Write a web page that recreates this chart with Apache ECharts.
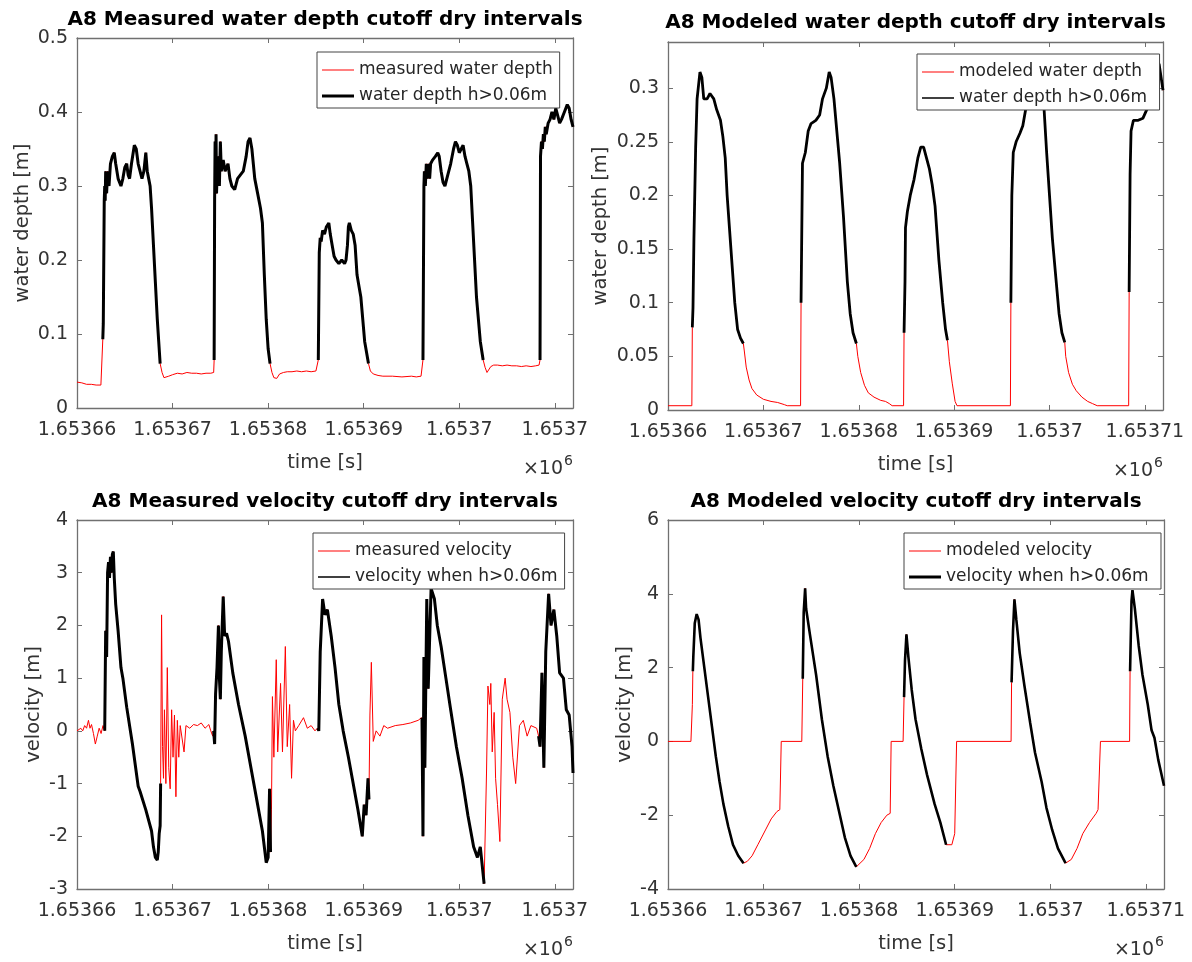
<!DOCTYPE html>
<html><head><meta charset="utf-8">
<script src="https://cdn.jsdelivr.net/npm/echarts@6/dist/echarts.min.js"></script>
<style>html,body{margin:0;padding:0;background:#fff}#c{width:1192px;height:962px}</style>
</head><body><div id="c"></div>
<script>
// ---------- time base and tick labels ----------
const T0 = 1653660;          // seconds, axis origin
const T_MAX = 51.9;          // seconds after T0 shown
const xTickLabelsLeft  = ['1.65366','1.65367','1.65368','1.65369','1.6537','1.6537'];
const xTickLabelsRight = ['1.65366','1.65367','1.65368','1.65369','1.6537','1.65371'];
const yTicksDepthMeas = ['0','0.1','0.2','0.3','0.4','0.5'];
const yTicksDepthMod  = ['0','0.05','0.1','0.15','0.2','0.25','0.3'];
const yTicksVelMeas   = ['-3','-2','-1','0','1','2','3','4'];
const yTicksVelMod    = ['-4','-2','0','2','4','6'];

// ---------- A8 measured water depth (t in s after T0, depth in m) ----------
const depthMeasT = [
 0,0.5,1,1.5,2,2.5,2.65,
 2.7,2.75,2.85,2.9,2.95,3,3.1,3.2,3.35,3.5,3.7,3.9,4.05,4.3,4.6,4.8,5,5.2,5.35,5.5,5.7,6,6.2,6.4,6.6,6.8,7,7.2,7.35,7.5,7.65,7.8,8,8.2,8.4,8.55,8.7,
 8.9,9.1,9.3,9.6,10,10.5,11,11.5,12,12.5,13,13.5,14,14.3,
 14.35,14.4,14.45,14.5,14.55,14.6,14.7,14.8,14.9,15,15.1,15.3,15.5,15.8,16,16.2,16.5,16.8,17.1,17.4,17.7,17.9,18.1,18.3,18.6,18.9,19.2,19.4,19.6,19.8,20,20.2,
 20.4,20.6,20.9,21.2,21.6,22,22.5,23,23.5,24,24.5,25,25.2,
 25.25,25.35,25.45,25.55,25.7,25.9,26.1,26.35,26.5,26.7,26.9,27.1,27.4,27.7,28,28.15,28.3,28.4,28.5,28.7,28.9,29.1,29.3,29.5,29.7,29.9,30.1,30.5,
 30.7,31,31.5,32,33,34,35,35.5,36,36.15,
 36.2,36.3,36.35,36.45,36.55,36.65,36.8,36.9,37,37.2,37.5,37.75,37.9,38.1,38.3,38.5,38.8,39.1,39.4,39.6,39.8,40,40.2,40.4,40.6,40.8,41,41.2,41.4,41.6,41.8,42,42.2,42.5,
 42.7,42.9,43.1,43.3,43.6,44,44.5,45,45.5,46,46.5,47,47.5,48,48.35,
 48.45,48.5,48.6,48.7,48.8,48.9,49,49.1,49.3,49.5,49.7,49.9,50.1,50.3,50.5,50.7,51,51.3,51.5,51.7,51.9];
const depthMeasV = [
 0.035,0.034,0.032,0.032,0.031,0.031,0.030,
 0.093,0.114,0.28,0.30,0.28,0.32,0.29,0.32,0.30,0.33,0.34,0.345,0.33,0.31,0.30,0.31,0.325,0.33,0.315,0.31,0.33,0.355,0.35,0.33,0.33,0.31,0.32,0.345,0.32,0.31,0.30,0.27,0.22,0.17,0.12,0.09,0.06,
 0.048,0.041,0.040,0.043,0.045,0.047,0.046,0.048,0.047,0.047,0.046,0.047,0.047,0.048,
 0.065,0.28,0.36,0.30,0.37,0.29,0.33,0.34,0.30,0.36,0.32,0.335,0.32,0.33,0.31,0.30,0.295,0.31,0.315,0.32,0.34,0.36,0.365,0.35,0.31,0.29,0.27,0.25,0.18,0.12,0.08,0.06,
 0.048,0.041,0.040,0.046,0.048,0.049,0.049,0.050,0.049,0.050,0.049,0.050,0.050,
 0.065,0.21,0.23,0.225,0.24,0.235,0.245,0.25,0.235,0.22,0.205,0.20,0.195,0.20,0.195,0.20,0.22,0.245,0.25,0.24,0.235,0.22,0.18,0.165,0.15,0.12,0.09,0.06,
 0.05,0.046,0.044,0.043,0.043,0.042,0.043,0.042,0.043,0.045,
 0.065,0.30,0.32,0.30,0.33,0.31,0.33,0.31,0.33,0.335,0.34,0.345,0.34,0.32,0.305,0.30,0.315,0.33,0.35,0.36,0.355,0.345,0.35,0.355,0.34,0.33,0.32,0.30,0.25,0.20,0.15,0.12,0.09,0.065,
 0.055,0.048,0.050,0.056,0.058,0.058,0.057,0.058,0.057,0.057,0.056,0.057,0.056,0.057,0.058,
 0.065,0.34,0.36,0.35,0.37,0.36,0.38,0.37,0.385,0.39,0.40,0.39,0.405,0.395,0.385,0.39,0.40,0.41,0.405,0.39,0.38];
const depthMeasWet = [[2.7,8.7],[14.35,20.2],[25.25,30.5],[36.2,42.5],[48.45,51.9]];

// ---------- A8 modeled water depth ----------
const depthModT = [
 0,2.5,
 2.55,2.62,2.72,2.9,3.05,3.35,3.55,3.75,4.1,4.4,4.8,5.1,5.5,5.75,6,6.2,6.6,7,7.3,7.6,7.9,
 8,8.2,8.5,8.8,9.3,10,10.8,11.5,12.2,12.5,13.9,
 13.95,14.1,14.4,14.7,15,15.5,15.9,16.2,16.6,16.9,17.1,17.4,17.7,18,18.4,18.8,19.1,19.4,19.75,
 19.9,20.2,20.6,21,21.6,22.3,22.8,23.2,23.5,24.7,
 24.75,24.85,24.9,25.1,25.4,25.8,26.2,26.5,26.8,27.1,27.4,27.7,28,28.4,28.8,29.1,29.3,
 29.5,29.8,30.1,30.3,35.9,
 35.95,36.05,36.2,36.5,36.9,37.2,37.5,37.9,38.3,38.7,39.1,39.4,39.7,40,40.3,40.7,41,41.3,41.6,
 41.7,42,42.4,42.8,43.4,44,44.5,45,48.3,
 48.35,48.45,48.55,48.8,49.3,49.8,50.2,50.6,51,51.3,51.5,51.7,51.9];
const depthModV = [
 0.004,0.004,
 0.077,0.095,0.16,0.245,0.29,0.315,0.31,0.29,0.29,0.295,0.29,0.28,0.27,0.255,0.235,0.20,0.15,0.10,0.075,0.067,0.062,
 0.055,0.04,0.028,0.02,0.014,0.010,0.008,0.007,0.005,0.004,0.004,
 0.10,0.23,0.24,0.26,0.267,0.27,0.275,0.29,0.30,0.315,0.31,0.29,0.26,0.23,0.18,0.12,0.09,0.072,0.062,
 0.05,0.035,0.023,0.016,0.012,0.009,0.008,0.006,0.004,0.004,
 0.072,0.12,0.17,0.185,0.20,0.215,0.235,0.245,0.245,0.235,0.225,0.21,0.19,0.14,0.10,0.075,0.065,
 0.045,0.025,0.008,0.004,0.004,
 0.10,0.20,0.24,0.25,0.258,0.265,0.28,0.30,0.315,0.32,0.31,0.285,0.24,0.20,0.16,0.12,0.09,0.072,0.063,
 0.05,0.035,0.024,0.018,0.012,0.008,0.006,0.004,0.004,
 0.11,0.22,0.26,0.27,0.27,0.272,0.28,0.30,0.315,0.325,0.322,0.31,0.298];
const depthModWet = [[2.55,7.9],[13.95,19.75],[24.75,29.3],[35.95,41.6],[48.35,51.9]];

// ---------- A8 measured velocity ----------
const velMeasT = [
 0,0.4,0.6,0.8,1.0,1.2,1.36,1.52,1.72,1.92,2.12,2.32,2.52,2.72,
 2.9,3.0,3.1,3.2,3.3,3.4,3.5,3.6,3.7,3.8,3.9,4.05,4.3,4.6,4.8,5.2,5.8,6.4,6.6,7.2,7.8,8.0,8.2,8.4,8.5,8.6,8.7,8.75,
 8.85,8.95,9.05,9.15,9.3,9.45,9.6,9.75,9.9,10.05,10.2,10.35,10.5,10.65,10.8,11.2,11.4,11.8,12.2,12.6,13,13.4,13.8,14,14.2,
 14.3,14.4,14.5,14.65,14.8,14.9,15.0,15.1,15.3,15.45,15.65,15.85,16.3,16.9,17.6,18.2,18.8,19.4,19.8,20.0,20.15,20.25,
 20.35,20.45,20.6,20.85,21.0,21.3,21.5,21.8,22.0,22.25,22.45,22.65,22.85,23.2,23.7,24.1,24.5,24.9,25.15,
 25.2,25.3,25.45,25.7,25.95,26.2,26.6,27.0,27.4,27.85,28.4,28.8,29.4,29.85,30.05,30.25,30.45,30.55,
 30.65,30.8,31.0,31.3,31.7,32.1,32.5,33.3,34.1,34.9,35.7,36.05,
 36.1,36.2,36.3,36.4,36.6,36.75,37.05,37.4,37.7,38.1,38.6,39.1,39.7,40.3,40.9,41.5,41.9,42.2,42.6,
 42.85,43.0,43.2,43.3,43.45,43.65,43.8,44.0,44.25,44.5,44.8,45.0,45.3,45.6,45.9,46.3,46.7,47.1,47.5,48.1,
 48.3,48.45,48.65,48.85,49.05,49.35,49.6,49.9,50.2,50.5,50.9,51.2,51.5,51.8,51.9];
const velMeasV = [
 0,0.05,0,0.1,0.05,0.2,0.05,0.12,-0.05,-0.25,-0.1,0.05,-0.05,0.1,
 0,1.9,1.4,3.0,3.2,2.9,3.3,3.0,3.35,3.4,2.9,2.4,1.9,1.2,1.0,0.45,-0.25,-1.05,-1.15,-1.5,-1.9,-2.2,-2.4,-2.45,-2.3,-1.95,-1.8,-1.0,
 2.2,-0.3,-0.9,0.4,-1.0,1.2,-0.7,-1.1,0.4,-0.5,0.3,-1.25,0.2,-0.5,0.1,-0.4,0.1,0.05,0.12,0.1,0.15,0.05,0.12,0.0,-0.1,
 0.0,-0.25,0.7,1.2,2.0,1.0,0.6,1.5,2.55,1.8,1.85,1.7,1.1,0.5,-0.1,-0.7,-1.3,-1.9,-2.5,-2.4,-1.1,-2.3,
 -1.5,0.65,-0.5,1.35,-0.4,0.9,-0.4,1.6,-0.3,0.5,-0.9,0.2,0.0,0.1,0.25,0.05,0.1,0.0,0.05,
 0.05,0.0,1.5,2.5,2.2,2.3,1.8,1.2,0.5,0.0,-0.5,-0.9,-1.5,-2.0,-1.4,-1.6,-0.9,-1.3,
 0.3,1.3,-0.2,0.0,-0.1,0.1,0.05,0.1,0.12,0.15,0.2,0.25,
 0.25,-2.0,1.4,-0.7,2.5,0.8,2.7,2.5,2.0,1.6,1.0,0.4,-0.3,-0.9,-1.6,-2.2,-2.4,-2.2,-2.9,
 -0.8,0.85,0.5,0.9,-0.4,0.35,-0.9,-1.4,-2.1,0.6,1.0,0.6,0.35,-0.5,-1.0,0.1,0.2,-0.1,0.1,0.05,
 -0.1,-0.3,1.1,-0.7,1.5,2.6,2.0,2.3,1.8,1.1,1.0,0.4,0.3,-0.3,-0.8];
const velMeasWet = [[2.9,8.75],[14.3,20.25],[25.2,30.55],[36.1,42.6],[48.3,51.9]];

// ---------- A8 modeled velocity ----------
const velModT = [
 0,2.4,2.55,
 2.6,2.65,2.8,3.0,3.2,3.4,3.8,4.2,4.6,5.0,5.4,5.8,6.3,6.8,7.35,7.9,
 8.3,8.8,9.4,10.2,10.8,11.4,11.7,11.85,14.0,
 14.1,14.2,14.35,14.45,14.85,15.5,16.1,16.7,17.3,17.9,18.5,19.1,19.7,
 19.9,20.5,21.1,21.7,22.3,22.9,23.25,23.35,24.6,
 24.7,24.8,24.95,25.15,25.5,25.9,26.5,27.1,27.9,28.5,29.1,
 29.3,29.7,30.0,30.2,35.9,
 35.95,36.1,36.25,36.45,36.8,37.3,37.9,38.4,39.1,39.6,40.2,40.8,41.6,
 42.2,42.8,43.4,44.1,44.8,45.0,45.25,48.3,
 48.35,48.5,48.6,48.85,49.25,49.65,50.2,50.6,50.9,51.3,51.9];
const velModV = [
 0,0,1.0,
 1.9,2.3,3.2,3.45,3.3,2.8,2.0,1.2,0.4,-0.4,-1.1,-1.7,-2.3,-2.8,-3.1,-3.3,
 -3.25,-3.1,-2.8,-2.4,-2.1,-1.9,-1.85,0,0,
 1.7,3.5,4.15,3.6,2.9,1.8,0.6,-0.4,-1.2,-1.9,-2.6,-3.1,-3.4,
 -3.35,-3.2,-2.9,-2.5,-2.2,-2.0,-1.95,0,0,
 1.2,2.2,2.9,2.3,1.4,0.6,-0.2,-0.9,-1.7,-2.2,-2.8,
 -2.85,-2.8,-2.5,0,0,
 1.6,3.0,3.85,3.3,2.4,1.5,0.5,-0.3,-1.1,-1.8,-2.4,-2.9,-3.3,
 -3.2,-2.9,-2.5,-2.2,-1.95,-1.85,0,0,
 1.9,3.8,4.1,3.6,2.6,1.8,1.0,0.3,0.1,-0.5,-1.2];
const velModWet = [[2.6,7.9],[14.1,19.7],[24.7,29.1],[35.95,41.6],[48.35,51.9]];

// ---------- layout / style ----------
const FONT = 'DejaVu Sans';
const AX_COLOR = '#707070';
const TXT = '#333333';
const panels = [
 {title:'A8 Measured water depth cutoff dry intervals', grid:{left:77,top:38,width:496,height:370}, titleTop:10,
  yMin:0,yMax:0.5,yInt:0.1,yLabels:yTicksDepthMeas,xLabels:xTickLabelsLeft,yName:'water depth [m]',yNameGap:44,
  t:depthMeasT,v:depthMeasV,wet:depthMeasWet,redName:'measured water depth',blackName:'water depth h>0.06m',
  blackWidth:3,legendBlackWidth:3,legendPos:{left:317,top:52}},
 {title:'A8 Modeled water depth cutoff dry intervals', grid:{left:668,top:42,width:495,height:368}, titleTop:13,
  yMin:0,yMax:0.343,yInt:0.05,yLabels:yTicksDepthMod,xLabels:xTickLabelsRight,yName:'water depth [m]',yNameGap:57,
  t:depthModT,v:depthModV,wet:depthModWet,redName:'modeled water depth',blackName:'water depth h>0.06m ',
  blackWidth:2.8,legendBlackWidth:1.5,legendPos:{left:917,top:54}},
 {title:'A8 Measured velocity cutoff dry intervals', grid:{left:77,top:520,width:496,height:369}, titleTop:492,
  yMin:-3,yMax:4,yInt:1,yLabels:yTicksVelMeas,xLabels:xTickLabelsLeft,yName:'velocity [m]',yNameGap:33,
  t:velMeasT,v:velMeasV,wet:velMeasWet,redName:'measured velocity',blackName:'velocity when h>0.06m',
  blackWidth:3,legendBlackWidth:1.5,legendPos:{left:313,top:533}},
 {title:'A8 Modeled velocity cutoff dry intervals', grid:{left:668,top:520,width:496,height:369}, titleTop:492,
  yMin:-4,yMax:6,yInt:2,yLabels:yTicksVelMod,xLabels:xTickLabelsRight,yName:'velocity [m]',yNameGap:33,
  t:velModT,v:velModV,wet:velModWet,redName:'modeled velocity',blackName:'velocity when h>0.06m ',
  blackWidth:2.6,legendBlackWidth:3,legendPos:{left:904,top:533}}
];

// legend icon: a thin filled bar (w x h) drawn in the series colour
const barIcon = (h) => 'path://M0,0H32V' + h + 'H0Z';

const grid=[], xAxis=[], yAxis=[], series=[], legend=[], title=[], graphic=[];
panels.forEach((p,i)=>{
  grid.push(Object.assign({containLabel:false, show:false}, p.grid));
  const tickStyle = {show:true, inside:true, length:5, lineStyle:{color:AX_COLOR,width:1}};
  const lineStyle = {show:true, onZero:false, lineStyle:{color:AX_COLOR,width:1.3}};
  const xBase = {type:'value', gridIndex:i, min:T0, max:T0+T_MAX, interval:10, splitLine:{show:false}, axisTick:tickStyle, axisLine:lineStyle};
  xAxis.push(Object.assign({}, xBase, {position:'bottom',
    name:'time [s]', nameLocation:'middle', nameGap:45,
    nameTextStyle:{fontFamily:FONT,fontSize:19.5,color:TXT},
    axisLabel:{show:true, margin:13, fontFamily:FONT, fontSize:19, color:TXT,
      formatter:(val)=>{const k=Math.round((val-T0)/10); if(Math.abs(val-T0-k*10)>1e-6) return ''; return p.xLabels[k]||'';}}}));
  xAxis.push(Object.assign({}, xBase, {position:'top', axisLabel:{show:false}}));
  const yBase = {type:'value', gridIndex:i, min:p.yMin, max:p.yMax, interval:p.yInt, splitLine:{show:false}, axisTick:tickStyle, axisLine:lineStyle};
  yAxis.push(Object.assign({}, yBase, {position:'left',
    name:p.yName, nameLocation:'middle', nameGap:p.yNameGap,
    nameTextStyle:{fontFamily:FONT,fontSize:19.5,color:TXT},
    axisLabel:{show:true, margin:9, fontFamily:FONT, fontSize:19, color:TXT,
      formatter:(val)=>{const k=Math.round((val-p.yMin)/p.yInt); if(Math.abs(val-p.yMin-k*p.yInt)>1e-6) return ''; return p.yLabels[k]||'';}}}));
  yAxis.push(Object.assign({}, yBase, {position:'right', axisLabel:{show:false}}));

  const xi = 2*i, yi = 2*i;
  const pts = p.t.map((t,k)=>[T0+t, p.v[k]]);
  series.push({type:'line', name:p.redName, xAxisIndex:xi, yAxisIndex:yi, data:pts,
    symbol:'none', showSymbol:false, silent:true, animation:false, z:2,
    lineStyle:{color:'#ff0000', width:1}, itemStyle:{color:'#ff0000'}});
  p.wet.forEach(([a,b])=>{
    const seg = p.t.map((t,k)=>[t,p.v[k]]).filter(q=>q[0]>=a-1e-9 && q[0]<=b+1e-9).map(q=>[T0+q[0],q[1]]);
    series.push({type:'line', name:p.blackName, xAxisIndex:xi, yAxisIndex:yi, data:seg,
      symbol:'none', showSymbol:false, silent:true, animation:false, z:3,
      lineStyle:{color:'#000000', width:p.blackWidth}, itemStyle:{color:'#000000'}});
  });

  legend.push({orient:'vertical', left:p.legendPos.left, top:p.legendPos.top, align:'left',
    selectedMode:false, backgroundColor:'#ffffff', borderColor:'#444444', borderWidth:1, borderRadius:0,
    padding:[8,7,2,5], itemWidth:32, itemHeight:14, itemGap:6,
    textStyle:{fontFamily:FONT, fontSize:17, color:'#262626', lineHeight:20},
    data:[
      {name:p.redName, icon:barIcon(1), itemStyle:{color:'#ff0000', borderWidth:0}},
      {name:p.blackName, icon:barIcon(p.legendBlackWidth), itemStyle:{color:'#000000', borderWidth:0}}
    ]});

  title.push({text:p.title, left:p.grid.left + p.grid.width/2, top:p.titleTop, textAlign:'center', padding:0,
    textStyle:{fontFamily:FONT, fontWeight:'bold', fontSize:20, color:'#000000'}});

  const rightX = p.grid.left + p.grid.width - 10;
  const baseY = p.grid.top + p.grid.height + 61;
  graphic.push({type:'text', x:rightX, y:baseY, style:{text:'×10', font:'19px "'+FONT+'"', fill:TXT, textAlign:'right', align:'right', textVerticalAlign:'middle', verticalAlign:'middle'}});
  graphic.push({type:'text', x:rightX+1, y:baseY-8, style:{text:'6', font:'14px "'+FONT+'"', fill:TXT, textAlign:'left', align:'left', textVerticalAlign:'middle', verticalAlign:'middle'}});
});

const chart = echarts.init(document.getElementById('c'), null, {renderer:'canvas'});
chart.setOption({backgroundColor:'#ffffff', animation:false, grid, xAxis, yAxis, series, legend, title, graphic});
</script>
</body></html>
